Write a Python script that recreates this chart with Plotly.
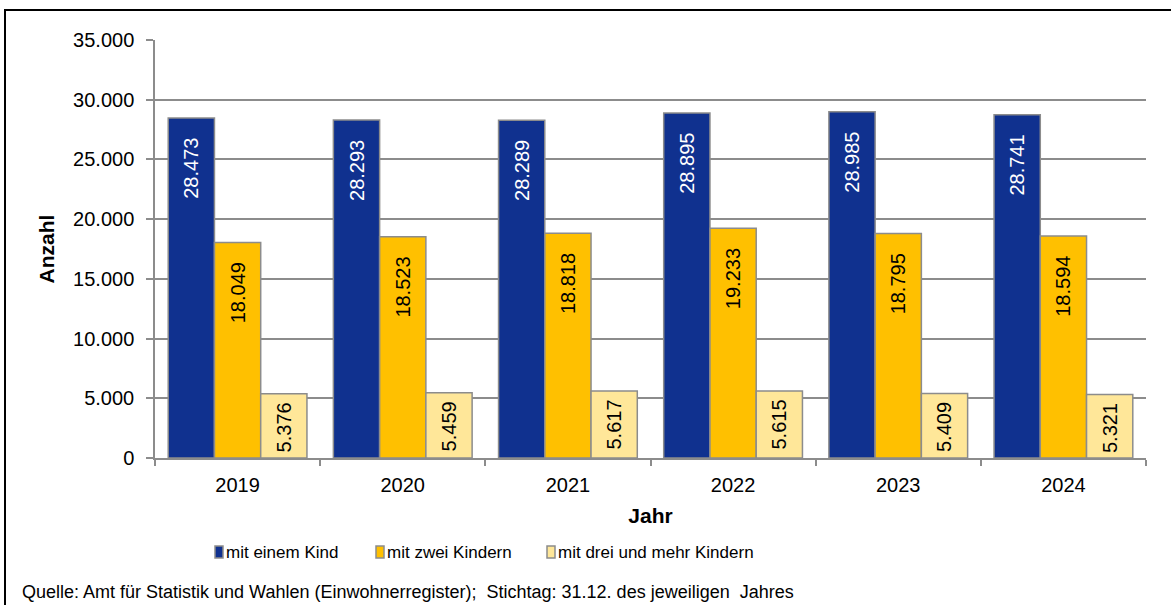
import plotly.graph_objects as go

# Haushalte mit Kindern nach Kinderzahl, jeweils zum 31.12.
jahre = ["2019", "2020", "2021", "2022", "2023", "2024"]
ein_kind = [28473, 28293, 28289, 28895, 28985, 28741]
zwei_kinder = [18049, 18523, 18818, 19233, 18795, 18594]
drei_mehr = [5376, 5459, 5617, 5615, 5409, 5321]

# Name, Werte, Füllfarbe, Textfarbe, Abstand des Werts zum Balkenende
serien = [
    ("mit einem Kind", ein_kind, "#10318f", "white", 3),
    ("mit zwei Kindern", zwei_kinder, "#ffc000", "black", 3),
    ("mit drei und mehr Kindern", drei_mehr, "#ffe799", "black", 1),
]

FONT = "Liberation Sans, Arial, sans-serif"
GRAU = "#8c8c8c"

fig = go.Figure()
for name, werte, farbe, textfarbe, abstand in serien:
    fig.add_trace(go.Bar(
        name=name,
        x=jahre,
        y=werte,
        marker=dict(color=farbe, line=dict(color=GRAU, width=1.5)),
        texttemplate="%{y:,}" + "\u00a0" * abstand,
        textposition="inside",
        insidetextanchor="end",
        textangle=-90,
        textfont=dict(family=FONT, size=20, color=textfarbe),
        showlegend=False,
    ))

# Pixelgeometrie der Zeichenfläche
W, H = 1171, 605
L, R, T, B = 155, 1146, 40, 458
def px_x(p):
    return (p - L) / (R - L)
def px_y(p):
    return (B - p) / (B - T)

# Rahmen um die gesamte Grafik
fig.add_shape(type="rect", xref="paper", yref="paper",
              x0=px_x(5), x1=px_x(1180), y0=px_y(10), y1=px_y(620),
              line=dict(color="black", width=2), layer="below")

# Legende unter der Grafik
legende_x = [215, 376, 547]
legende_y = 552
for (name, _, farbe, _, _), lx in zip(serien, legende_x):
    fig.add_shape(type="rect", xref="paper", yref="paper",
                  x0=px_x(lx), x1=px_x(lx + 8),
                  y0=px_y(legende_y + 6), y1=px_y(legende_y - 6),
                  fillcolor=farbe, line=dict(color=GRAU, width=1.5))
    fig.add_annotation(xref="paper", yref="paper",
                       x=px_x(lx + 9), y=px_y(legende_y),
                       xanchor="left", yanchor="middle", showarrow=False,
                       text=name, font=dict(family=FONT, size=17, color="black"))

fig.add_annotation(
    xref="paper", yref="paper", x=px_x(20), y=px_y(592),
    xanchor="left", yanchor="middle", showarrow=False,
    text="Quelle: Amt für Statistik und Wahlen (Einwohnerregister);  Stichtag: 31.12. des jeweiligen  Jahres",
    font=dict(family=FONT, size=18, color="black"),
)

fig.update_layout(
    width=W, height=H,
    margin=dict(l=L, r=W - R, t=T, b=H - B),
    paper_bgcolor="white", plot_bgcolor="white",
    separators=",.",
    barmode="group", bargap=0.16, bargroupgap=0,
    font=dict(family=FONT, size=21, color="black"),
    uniformtext=dict(minsize=20, mode="show"),
    showlegend=False,
    xaxis=dict(
        title=dict(text="<b>Jahr</b>", font=dict(size=21), standoff=14),
        showline=True, linecolor=GRAU, linewidth=1.5,
        ticks="outside", tickson="boundaries", ticklen=6, tickcolor=GRAU, tickwidth=1.5,
        tickfont=dict(size=20), ticklabelstandoff=8,
    ),
    yaxis=dict(
        title=dict(text="<b>Anzahl</b>", font=dict(size=21), standoff=13),
        range=[0, 35000], dtick=5000, tickformat=",d",
        showline=True, linecolor=GRAU, linewidth=1.5,
        showgrid=True, gridcolor=GRAU, gridwidth=1.5,
        ticks="outside", ticklen=7, tickcolor=GRAU, tickwidth=1.5,
        tickfont=dict(size=20), ticklabelstandoff=8, zeroline=False,
    ),
)

fig.write_html("out.html")
